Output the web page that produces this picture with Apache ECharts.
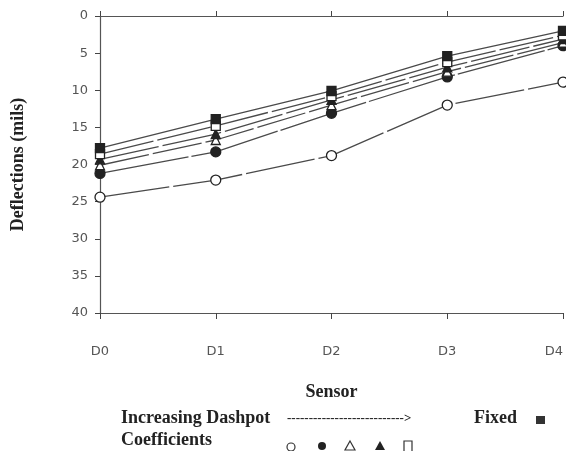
<!DOCTYPE html>
<html>
<head>
<meta charset="utf-8">
<script src="https://cdn.jsdelivr.net/npm/echarts@6/dist/echarts.min.js"></script>
<style>html,body{margin:0;padding:0;background:#fff;}#c{width:566px;height:451px;}</style>
</head>
<body>
<div id="c"></div>
<script>
var categories = ['D0', 'D1', 'D2', 'D3', 'D4'];
var yTicks = [0, 5, 10, 15, 20, 25, 30, 35, 40];
var openCircle   = [24.4, 22.1, 18.8, 12.0, 8.9];
var filledCircle = [21.2, 18.3, 13.1, 8.2, 4.0];
var openTriangle = [20.1, 16.7, 12.0, 7.5, 3.6];
var filledTriangle = [19.3, 15.9, 11.3, 6.9, 3.1];
var openSquare   = [18.6, 14.8, 10.8, 6.2, 2.6];
var fixedSquare  = [17.8, 13.9, 10.1, 5.4, 2.0];

var chart = echarts.init(document.getElementById('c'));
var lineCol = '#4a4a4a';
var markCol = '#222';
function ser(name, data, symbol, filled, dash) {
  return {
    name: name, type: 'line', data: data, symbol: symbol,
    symbolSize: symbol === 'circle' ? 10 : 9,
    showAllSymbol: true,
    lineStyle: {color: lineCol, width: 1.3, type: dash},
    itemStyle: {color: filled ? markCol : '#fff', borderColor: markCol, borderWidth: 1.3},
    z: 3
  };
}
var serif = '"Liberation Serif", "DejaVu Serif", serif';
chart.setOption({
  animation: false,
  backgroundColor: '#fff',
  grid: {left: 100, top: 16, width: 467, height: 297},
  xAxis: [{
    type: 'category', data: categories, boundaryGap: false, position: 'bottom',
    axisLine: {onZero: false, lineStyle: {color: '#555', width: 1.2}},
    axisTick: {show: true, length: 6, lineStyle: {color: '#444'}},
    axisLabel: {color: '#555', fontSize: 13, margin: 32, fontFamily: '"DejaVu Sans", sans-serif', alignMaxLabel: 'right'},
    name: 'Sensor', nameLocation: 'middle', nameGap: 70,
    nameTextStyle: {fontFamily: serif, fontWeight: 'bold', fontSize: 18, color: '#222'},
    splitLine: {show: false}
  }, {
    type: 'category', data: categories, boundaryGap: false, position: 'top',
    axisLine: {onZero: false, lineStyle: {color: '#555', width: 1.2}},
    axisTick: {show: false}, axisLabel: {show: false}, splitLine: {show: false}
  }, {
    type: 'category', data: categories, boundaryGap: false, position: 'bottom',
    axisLine: {show: false},
    axisTick: {show: true, inside: true, length: 5, lineStyle: {color: '#444'}},
    axisLabel: {show: false}, splitLine: {show: false}
  }],
  yAxis: {
    type: 'value', inverse: true, min: yTicks[0], max: yTicks[yTicks.length - 1], interval: 5,
    axisLine: {show: true, lineStyle: {color: '#555', width: 1.2}},
    axisTick: {show: true, length: 5, lineStyle: {color: '#444'}},
    axisLabel: {color: '#555', fontSize: 13, margin: 12, fontFamily: '"DejaVu Sans", sans-serif'},
    splitLine: {show: false},
    name: 'Deflections (mils)', nameLocation: 'middle', nameGap: 73, nameRotate: 90,
    nameTextStyle: {fontFamily: serif, fontWeight: 'bold', fontSize: 18, color: '#222'}
  },
  series: [
    ser('open circle', openCircle, 'circle', false, [70, 4]),
    ser('filled circle', filledCircle, 'circle', true, [90, 3]),
    ser('open triangle', openTriangle, 'triangle', false, [50, 4]),
    ser('filled triangle', filledTriangle, 'triangle', true, [60, 4]),
    ser('open square', openSquare, 'rect', false, [55, 4]),
    ser('Fixed', fixedSquare, 'rect', true, 'solid')
  ],
  graphic: [
    {type: 'text', left: 121, top: 409, style: {text: 'Increasing Dashpot', font: 'bold 18px ' + serif, fill: '#222'}},
    {type: 'text', left: 287, top: 412, style: {text: '--------------------------->', font: 'bold 13px ' + serif, fill: '#222'}},
    {type: 'text', left: 121, top: 431, style: {text: 'Coefficients', font: 'bold 18px ' + serif, fill: '#222'}},
    {type: 'text', left: 474, top: 409, style: {text: 'Fixed', font: 'bold 18px ' + serif, fill: '#222'}},
    {type: 'rect', shape: {x: 536, y: 416, width: 9, height: 8}, style: {fill: '#333'}},
    {type: 'circle', shape: {cx: 291, cy: 447, r: 4}, style: {fill: '#fff', stroke: '#333', lineWidth: 1.2}},
    {type: 'circle', shape: {cx: 322, cy: 446, r: 4}, style: {fill: '#222'}},
    {type: 'polygon', shape: {points: [[350, 441], [355, 450], [345, 450]]}, style: {fill: '#fff', stroke: '#333', lineWidth: 1.2}},
    {type: 'polygon', shape: {points: [[380, 441], [385, 450], [375, 450]]}, style: {fill: '#222'}},
    {type: 'rect', shape: {x: 404, y: 441, width: 8, height: 11}, style: {fill: '#fff', stroke: '#333', lineWidth: 1.2}}
  ]
});
</script>
</body>
</html>
